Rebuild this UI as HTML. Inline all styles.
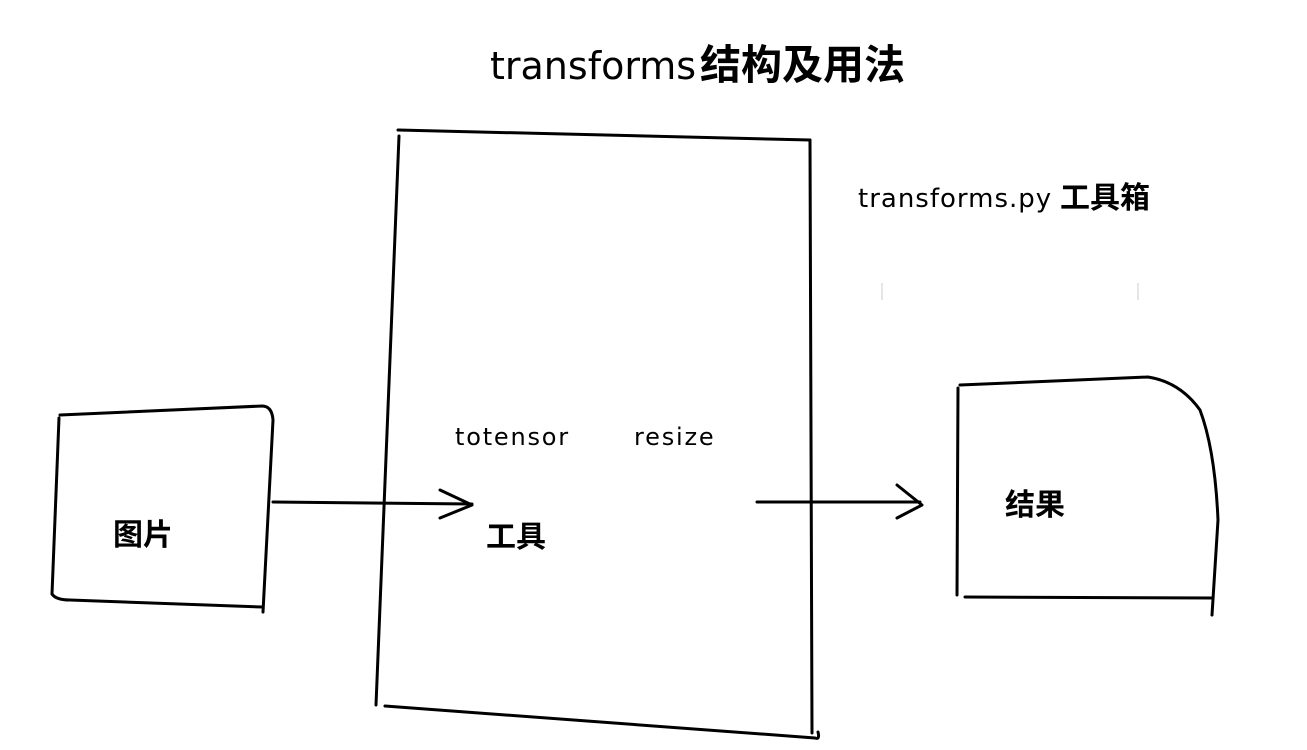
<!DOCTYPE html>
<html><head><meta charset="utf-8"><style>
html,body{margin:0;padding:0;background:#fff;width:1307px;height:750px;overflow:hidden}
svg{display:block}
.hw{font-family:"DejaVu Sans","Liberation Sans",sans-serif;font-weight:normal}
.cj{font-family:"Liberation Sans","Noto Sans CJK SC",sans-serif;font-weight:bold}
</style></head><body>
<svg width="1307" height="750" viewBox="0 0 1307 750" xmlns="http://www.w3.org/2000/svg">
<g fill="none" stroke="#000" stroke-width="3" stroke-linecap="round" stroke-linejoin="round">
<path d="M398,130 L810,140"/>
<path d="M399,136 L376,705"/>
<path d="M385,706 L815,738 Q820,740 818,732"/>
<path d="M810,140 L812,733"/>
<path d="M60,415 L262,406 Q272,406 273,420 L263,612"/>
<path d="M59,418 L52,594"/>
<path d="M52,594 Q56,600 70,600 L262,607"/>
<path d="M273,502 L472,504"/>
<path d="M440,490 L472,505 L440,518"/>
<path d="M757,502 L920,502"/>
<path d="M897,485 L922,505 L897,518"/>
<path d="M960,385 L1148,377 Q1180,382 1200,410 Q1215,450 1218,520 L1212,615"/>
<path d="M958,388 L957,595"/>
<path d="M965,597 L1212,598"/>
</g>
<g stroke="#ddd" stroke-width="1.5"><path d="M882,283 L882,300"/><path d="M1138,283 L1138,300"/></g>
<text x="490" y="79" class="hw" font-size="38">transforms</text>
<text x="700" y="79" class="cj" font-size="41">结构及用法</text>
<text x="858" y="207" class="hw" font-size="26" letter-spacing="1">transforms.py</text>
<text x="1060" y="208" class="cj" font-size="30">工具箱</text>
<text x="455" y="445" class="hw" font-size="24" letter-spacing="1.8">totensor</text>
<text x="634" y="445" class="hw" font-size="24" letter-spacing="1.8">resize</text>
<text x="113" y="545" class="cj" font-size="30">图片</text>
<text x="486" y="547" class="cj" font-size="30">工具</text>
<text x="1005" y="515" class="cj" font-size="30">结果</text>
</svg>
</body></html>
